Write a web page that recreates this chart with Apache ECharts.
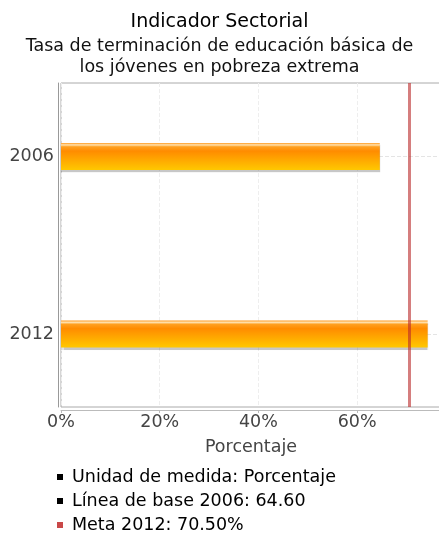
<!DOCTYPE html>
<html>
<head>
<meta charset="utf-8">
<script src="https://cdn.jsdelivr.net/npm/echarts@6/dist/echarts.min.js"></script>
<style>
  html, body { margin: 0; padding: 0; background: #fff; }
  #chart { width: 439px; height: 536px; }
</style>
</head>
<body>
<div id="chart"></div>
<script>
// datos
var years = ['2006', '2012'];
var values = [64.6, 74.3];
var meta = 70.5;
var xTicks = [0, 20, 40, 60];
var notes = ['Unidad de medida: Porcentaje', 'Línea de base 2006: 64.60', 'Meta 2012: 70.50%'];
var noteColors = ['#000', '#000', '#c94848'];

var font = 'DejaVu Sans';
var chart = echarts.init(document.getElementById('chart'));

var barColor = new echarts.graphic.LinearGradient(0, 0, 0, 1, [
  { offset: 0, color: '#ff9a20' },
  { offset: 0.07, color: '#ffe2b0' },
  { offset: 0.14, color: '#ffa020' },
  { offset: 0.3, color: '#ff8c00' },
  { offset: 1, color: '#ffc800' }
]);

var titles = [
  { text: 'Indicador Sectorial', left: 'center', top: 8,
    textStyle: { fontFamily: font, fontSize: 19, fontWeight: 'normal', color: '#000' } },
  { text: 'Tasa de terminación de educación básica de\nlos jóvenes en pobreza extrema', left: 'center', top: 31,
    textStyle: { fontFamily: font, fontSize: 17.5, fontWeight: 'normal', color: '#111', lineHeight: 21 } }
];
notes.forEach(function (n, i) {
  titles.push({
    text: '{sq|}{gap|}' + n,
    left: 52, top: 463 + i * 24,
    textStyle: {
      fontFamily: font, fontSize: 17.5, fontWeight: 'normal', color: '#000',
      rich: {
        sq: { width: 6, height: 6, backgroundColor: noteColors[i] },
        gap: { width: 9 }
      }
    }
  });
});

chart.setOption({
  animation: false,
  title: titles,
  grid: [
    { left: 61, right: -2, top: 83, bottom: 129, outerBoundsMode: 'none',
      show: true, borderColor: '#aaa', borderWidth: 1 },
    { left: 61, right: -2, top: 156.5, bottom: 202, outerBoundsMode: 'none' }
  ],
  xAxis: [
    {
      type: 'value', gridIndex: 0, min: 0, max: 77, interval: 20,
      offset: 3,
      axisLine: { show: true, onZero: false, lineStyle: { color: '#bbb' } },
      axisTick: { show: true, length: 3, lineStyle: { color: '#bbb' } },
      axisLabel: {
        fontFamily: font, fontSize: 17.5, color: '#444', margin: 3,
        formatter: function (v) { return xTicks.indexOf(v) >= 0 ? v + '%' : ''; }
      },
      splitLine: { show: true, lineStyle: { color: '#eee', type: 'dashed' } },
      name: 'Porcentaje', nameLocation: 'middle', nameGap: 28,
      nameTextStyle: { fontFamily: font, fontSize: 17.5, color: '#444' }
    },
    { type: 'value', gridIndex: 1, min: 0, max: 77, show: false }
  ],
  yAxis: [
    {
      type: 'value', gridIndex: 0, min: 0, max: 1, offset: 3,
      axisLine: { show: true, onZero: false, lineStyle: { color: '#999' } },
      axisTick: { show: false }, axisLabel: { show: false }, splitLine: { show: false }
    },
    {
      type: 'category', gridIndex: 1, data: years, boundaryGap: false, inverse: true,
      axisLine: { show: false }, axisTick: { show: false },
      axisLabel: { fontFamily: font, fontSize: 17.5, color: '#444', margin: 7 },
      splitLine: { show: true, lineStyle: { color: '#e4e4e4', type: 'dashed' } }
    }
  ],
  series: [
    {
      type: 'bar', xAxisIndex: 1, yAxisIndex: 1, data: values, barWidth: 27,
      itemStyle: {
        color: barColor,
        shadowColor: 'rgba(0,0,0,0.22)', shadowOffsetY: 2, shadowBlur: 1
      },
      silent: true
    },
    {
      type: 'line', xAxisIndex: 0, yAxisIndex: 0, data: [],
      markLine: {
        silent: true, symbol: 'none', label: { show: false },
        lineStyle: { color: 'rgba(185,40,40,0.6)', width: 3, type: 'solid' },
        data: [{ xAxis: meta }]
      }
    }
  ]
});
</script>
</body>
</html>
